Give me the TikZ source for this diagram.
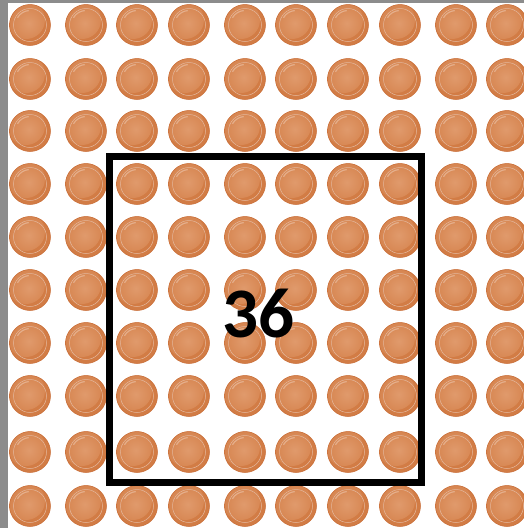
\documentclass[tikz,border=0pt]{standalone}
\usepackage{fontspec}
\newfontfamily\calfont{Carlito}
\usepackage{tikz}
\usetikzlibrary{calc}
\definecolor{marco}{HTML}{8C8C8C}
\definecolor{bordeficha}{HTML}{C96E38}
\definecolor{aroficha}{HTML}{D27C45}
\definecolor{fondoficha}{HTML}{D5824C}
\definecolor{brillo}{HTML}{E09A6C}
\tikzset{
  ficha/.style={circle,minimum size=41pt,inner sep=0pt,fill=aroficha,
    draw=bordeficha,line width=0.5pt,
    path picture={
      \shade[inner color=brillo,outer color=fondoficha]
        ([shift={(-4pt,5pt)}]path picture bounding box.center) circle (19pt);
      \draw[bordeficha!50,line width=0.5pt]
        (path picture bounding box.center) circle (16.5pt);
      \draw[white,opacity=0.3,line width=1.2pt]
        ([shift={(150:14.5pt)}]path picture bounding box.center) arc (150:95:14.5pt);
    }},
  recuadro/.style={draw=black,line width=7pt},
  total/.style={font=\calfont\bfseries\fontsize{71}{71}\selectfont,inner sep=0pt}
}

\begin{document}
\begin{tikzpicture}[x=1pt,y=-1pt]
  \useasboundingbox (0,0) rectangle (524,528);
  \fill[white] (0,0) rectangle (524,528);
  % --- bordes grises ---
  \fill[marco] (0,0) rectangle (8,528);
  \fill[marco] (0,0) rectangle (524,3);
  % --- fichas 10x10 ---
  \foreach \y [count=\r] in {25,79,131,184,237,290,343,396,452,506}{
    \foreach \x [count=\c] in {30,86,137,189,245,296,348,400,456,507}{
      \node[ficha] (f-\r-\c) at (\x,\y) {};
    }
  }
  % --- recuadro 6x6 ---
  \draw[recuadro] (109.5,156.5) rectangle (421,482.5);
  \node[total] (cuenta) at (258,314) {36};
\end{tikzpicture}
\end{document}
